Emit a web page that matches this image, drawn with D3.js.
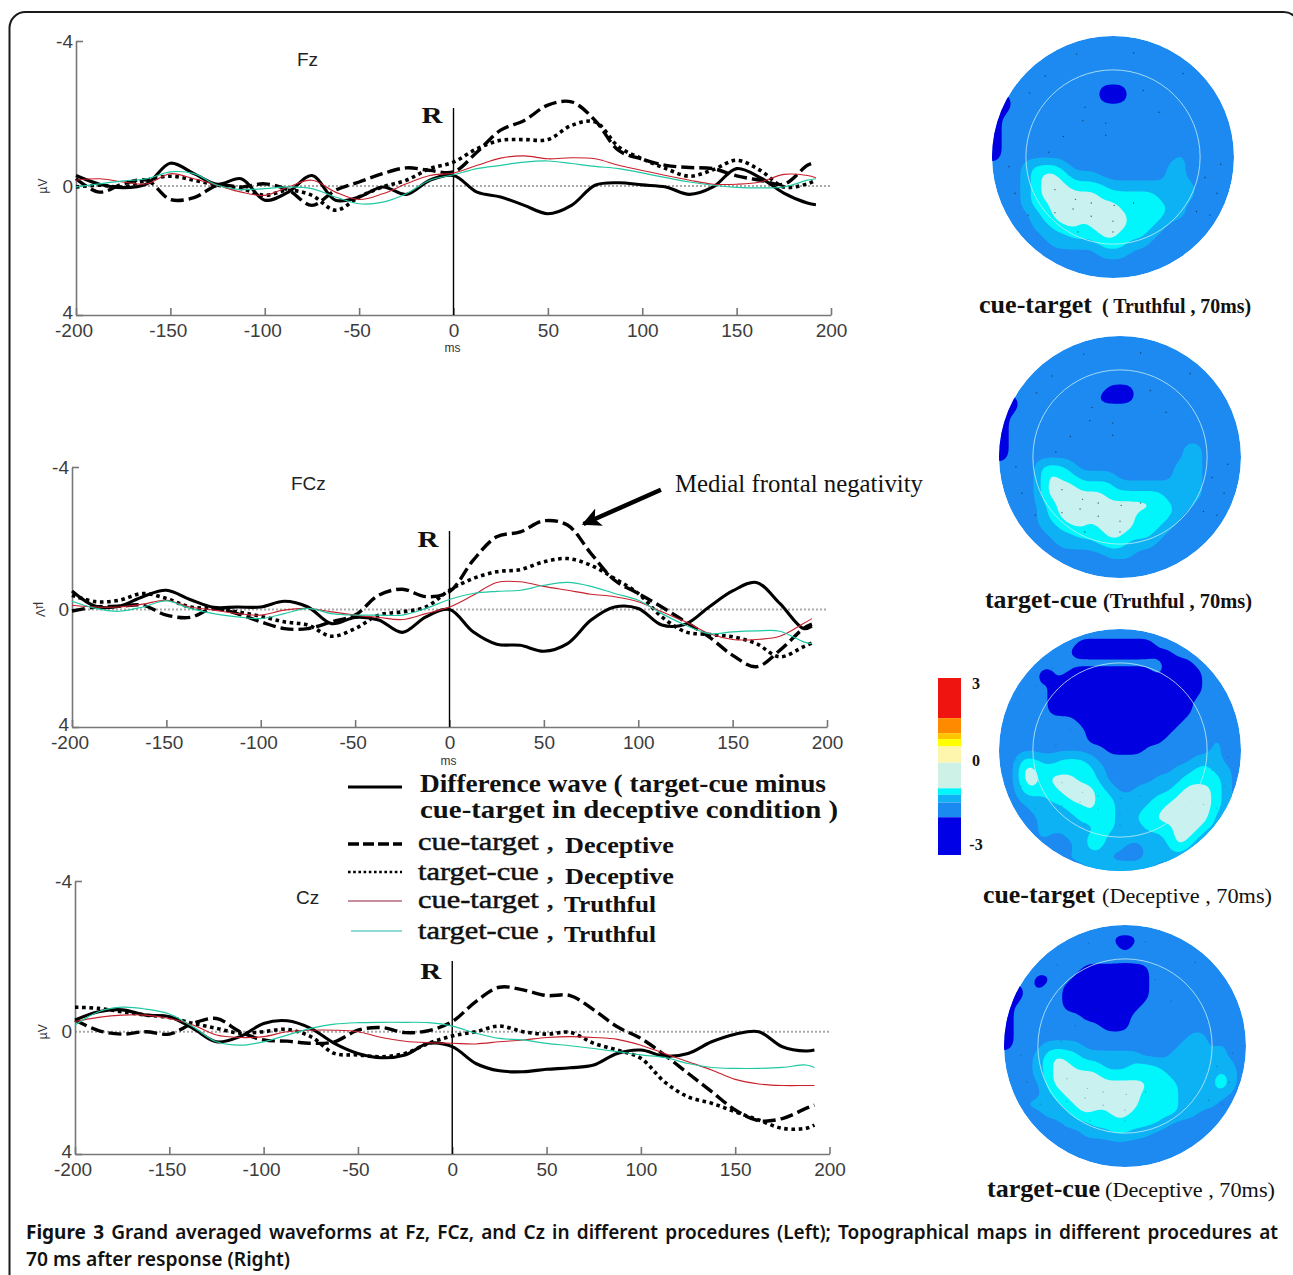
<!DOCTYPE html>
<html>
<head>
<meta charset="utf-8">
<script src="https://cdn.jsdelivr.net/npm/d3@7"></script>
<style>
body { margin: 0; background: #fff; }
svg { display: block; }
</style>
</head>
<body>
<svg id="figure" width="1293" height="1275"></svg>
<script>
// time base shared by all three electrodes (ms)
const times = [-200,-187.5,-175,-162.5,-150,-137.5,-125,-112.5,-100,-87.5,-75,-62.5,-50,-37.5,-25,-12.5,0,12.5,25,37.5,50,62.5,75,87.5,100,112.5,125,137.5,150,162.5,175,187.5,192];
const xTicks = [-200,-150,-100,-50,0,50,100,150,200];
const yTicks = [-4,0,4];

// Fz (uV, negative up)
const fzDiff = [-.29,-.05,.05,-.06,-.63,-.34,-.05,-.2,.44,.19,-.29,.44,.34,.03,.26,-.16,-.29,.19,.34,.6,.86,.6,-.02,-.09,-.03,.03,.26,.03,-.48,-.23,.22,.53,.58];
const fzCueDec = [-.2,.19,-.06,-.16,.42,.36,-.02,.03,-.06,.13,.6,.13,-.11,-.34,-.5,-.43,-.39,-.94,-1.54,-1.81,-2.23,-2.32,-1.81,-.98,-.74,-.57,-.51,-.48,-.28,-.16,-.05,-.57,-.66];
const fzTgtDec = [.03,-.02,.03,-.16,-.27,-.16,-.02,.08,.29,.13,.29,.75,.34,.03,-.16,-.48,-.66,-1.03,-1.26,-1.28,-1.28,-1.67,-1.77,-1.08,-.75,-.48,-.27,-.45,-.71,-.43,.03,-.06,-.16];
const fzCueTru = [-.16,-.2,-.11,-.06,-.34,-.2,-.02,.19,.29,.03,-.16,.19,.42,.24,-.06,-.29,-.36,-.57,-.77,-.83,-.75,-.78,-.75,-.57,-.43,-.29,-.16,-.05,-.05,-.11,-.32,-.29,-.23];
const fzTgtTru = [.03,-.06,-.14,-.2,-.39,-.34,-.02,.11,.08,.03,.08,.34,.55,.5,.24,-.16,-.31,-.48,-.57,-.66,-.69,-.62,-.54,-.48,-.36,-.23,-.11,-.02,.04,.06,.03,-.16,-.2];

// FCz
const fczDiff = [-.52,-.09,-.09,-.36,-.54,-.28,-.06,-.07,-.07,-.23,-.07,.48,.27,.36,.78,.25,0,.76,1.18,1.22,1.42,1.16,.36,-.07,-.03,.53,.5,-.07,-.52,-.76,-.17,.65,.57];
const fczCueDec = [.05,-.07,-.09,-.12,.19,.27,-.03,.14,.42,.65,.65,.42,.19,-.4,-.57,-.36,-.5,-1.38,-2.04,-2.18,-2.49,-2.37,-1.57,-.82,-.45,-.07,.42,.93,1.56,1.95,1.39,.65,.5];
const fczTgtDec = [-.4,-.22,-.26,-.45,-.31,-.07,-.03,.08,.23,.42,.53,.91,.65,.19,.08,-.07,-.54,-.87,-1.06,-1.12,-1.34,-1.43,-1.24,-.87,-.45,.25,.76,.85,.93,1.16,1.61,1.27,1.14];
const fczCueTru = [-.12,-.07,-.07,-.15,-.26,-.07,.02,.14,.19,.02,-.03,.08,.19,.27,.34,.14,-.07,-.4,-.76,-.78,-.65,-.54,-.43,-.36,-.22,.08,.42,.82,1.02,1.02,.91,.48,.31];
const fczTgtTru = [-.23,-.03,.06,-.07,-.24,-.03,.14,.25,.31,.14,-.03,.14,.19,.19,.19,-.03,-.28,-.45,-.51,-.54,-.68,-.76,-.65,-.45,-.26,.14,.53,.82,.76,.73,.74,1.1,1.16];

// Cz
const czDiff = [-.31,-.53,-.58,-.44,-.4,-.09,.33,.16,-.22,-.29,-.09,.38,.71,.85,.76,.38,.49,1.04,1.28,1.31,1.23,1.18,1.09,.71,.6,.8,.71,.33,.08,0,.49,.63,.6];
const czCueDec = [-.31,-.03,.08,0,.08,-.22,-.35,0,.27,.31,.38,.33,-.04,-.11,.03,-.03,-.27,-.8,-1.18,-1.11,-.96,-.96,-.58,-.13,.22,.76,1.36,1.96,2.56,2.91,2.84,2.51,2.4];
const czTgtDec = [-.65,-.62,-.53,-.44,-.38,-.22,-.09,.05,0,-.06,.16,.71,.76,.82,.71,.38,.14,0,-.15,0,.08,.02,.38,.6,.87,1.64,2.13,2.34,2.62,2.89,3.16,3.16,3.05];
const czCueTru = [-.27,-.38,-.44,-.44,-.35,-.18,.11,.19,.16,0,-.04,-.04,0,.19,.31,.36,.38,.4,.33,.27,.19,.16,.19,.25,.44,.71,.98,1.25,1.56,1.71,1.76,1.76,1.76];
const czTgtTru = [-.18,-.53,-.65,-.6,-.47,-.13,.33,.44,.33,.11,-.09,-.2,-.24,-.25,-.25,-.24,-.15,.05,.22,.27,.38,.46,.55,.65,.76,.84,1.04,1.17,1.2,1.2,1.17,1.09,1.17];

// colour bands of the topographic maps, band digit -> colour
const bandColors = ["#0000e0", "#1a8af0", "#10b2f5", "#00f6fa", "#c9f1ef"];

// colour bar: upper limit of each band in uV
const barStops = [3, 1.64, 1.13, .93, .68, .13, -.74, -.96, -1.22, -1.72, -3];
const barColors = ["#f01410", "#ff8a00", "#ffc400", "#ffff00", "#fff6ae", "#cdf1e6", "#00f6fa", "#10b2f5", "#1a8af0", "#0000e6"];
const barTicks = [3, 0, -3];

// topographic maps read as band digits on a 25 x 25 grid
const mapCueTruthful = [
"1111111111111111111111111","1111111111111111111111111","1111111111111111111111111","1111111111111111111111111","1111111111111111111111111",
"0111111111100011111111111","0011111111100011111111111","0011111111111111111111111","0111111111111111111111111","0111111111111111111111111",
"0111111111111111111111111","0111111111111111111111111","0111111111111111111211111","1112333211111111112211111","1112344322211111112211111",
"1112344433332222222221111","1112344444433333322221111","1112334444444333332211111","1111234444444433332211111","1111223443444433321111111",
"1111122233344333211111111","1111112222233322111111111","1111111111122211111111111","1111111111111111111111111","1111111111111111111111111"];

const mapTargetTruthful = [
"1111111111111111111111111","1111111111111111111111111","1111111111111111111111111","1111111111111111111111111","1111111111111111111111111",
"1111111111100011111111111","0011111111000011111111111","0011111111111111111111111","0111111111111111111111111","0111111111111111111111111",
"0111111111111111111111111","0111111111111111111221111","0111111111111111111221111","1111333211111111112221111","1111343322221111112221111",
"1111344433332222222221111","1111344444433333322221111","1111234444444444332211111","1111234444444433332111111","1111223443444433321111111",
"1111122233344333211111111","1111112222333222111111111","1111111111122211111111111","1111111111111111111111111","1111111111111111111111111"];

const mapCueDeceptive = [
"1111111111111111111111111","1111111100000000111111111","1111111000000000001111111","1111111111111111100011111","1111001000000000100001111",
"1111010000000000000001111","1111100000000000000001111","1111100000000000000011111","1111100000000000000011111","1111111100000000000111111",
"1111111110000000001111111","1111111110000000011111211","1111111111100001111111211","1133223332111111111122211","1144333333211111112233221",
"1144344433211111222333321","1134334444321122223444321","1122233444332222334444321","1112222334332223344444321","1111222233332233444444211",
"1111222222332223334443211","1111211223322222234431111","1111111123322112224311111","1111111222211112222111111","1111111112222222111111111"];

const mapTargetDeceptive = [
"1111111111111111111111111","1111111111100011111111111","1111111111110111111111111","1111111111111111111111111","1111111100000001111111111",
"1110011000000001111111111","0010110000000001111111111","0011110000000001111111111","0111110000000011111111111","0111111100000111111111111",
"0111111111000111111111111","0111111111111111111221111","0111222211111111112221211","1112343322222211122222211","1112344333222333222222221",
"1112344444333333322222321","1111344444444443332222421","1111234444444433332222211","1122223444444433332222111","1111222343344333332211111",
"1111112223333333211111111","1111111122233221111111111","1111111111111111111111111","1111111111111111111111111","1111111111111111111111111"];

// electrode sites, as fractions of the head radius
const electrodes = [[-.3,-.85],[.17,-.86],[.58,-.69],[-.56,-.67],[-.69,-.53],[.25,-.55],[-.23,-.41],[.38,-.37],[-.25,-.3],[-.06,-.28],[-.06,-.18],[-.41,-.17],[-.53,-.04],[-.86,.08],[.89,.06],[.76,.17],[-.81,.3],[.86,.3],[.69,.45],[.8,.48],[-.7,.48],[-.48,.27],[-.31,.35],[-.18,.38],[.01,.4],[.17,.38],[-.48,.46],[-.33,.43],[-.18,.49],[0,.53],[-.29,.62],[0,.62]];

const svg = d3.select("#figure");
const serif = "'Liberation Serif', serif";
const sans = "'Liberation Sans', sans-serif";

const styles = {
    diff: { stroke: "#000", width: 3.1 },
    cueDec: { stroke: "#000", width: 3.4, dash: "13 5" },
    tgtDec: { stroke: "#000", width: 3.6, dash: "3.6 3.6" },
    cueTru: { stroke: "#c8202c", width: 1.1 },
    tgtTru: { stroke: "#1fc8a2", width: 1.2 }
};

function drawFrame() {
    svg.append("rect")
        .attr("x", 9.5).attr("y", 12).attr("width", 1290).attr("height", 1320)
        .attr("rx", 16)
        .attr("fill", "#fff").attr("stroke", "#1a1a1a").attr("stroke-width", 2);
}

function label(x, y, str, width, opts = {}) {
    const t = svg.append("text")
        .attr("x", x).attr("y", y)
        .attr("font-family", opts.family || serif)
        .attr("font-size", opts.size || 25)
        .attr("font-weight", opts.weight || "bold")
        .attr("fill", opts.fill || "#111")
        .text(str);
    if (width) t.attr("textLength", width).attr("lengthAdjust", "spacingAndGlyphs");
    return t;
}

function drawPanel(p) {
    const xScale = d3.scaleLinear().domain([-200, 200]).range(p.x);
    const yScale = d3.scaleLinear().domain([-4, 0, 4]).range(p.y);
    const g = svg.append("g");

    const line = d3.line()
        .x((d, i) => xScale(times[i]))
        .y(d => yScale(d))
        .curve(d3.curveCatmullRom);

    g.append("line")
        .attr("x1", xScale(-200)).attr("x2", xScale(200))
        .attr("y1", yScale(0)).attr("y2", yScale(0))
        .attr("stroke", "#a9a9a9").attr("stroke-width", 2).attr("stroke-dasharray", "2 2");

    const xAxis = g.append("g")
        .attr("transform", `translate(0,${yScale(4)})`)
        .call(d3.axisBottom(xScale).tickValues(xTicks).tickSizeInner(-7).tickSizeOuter(0).tickPadding(9).tickFormat(d => String(d)));
    const yAxis = g.append("g")
        .attr("transform", `translate(${xScale(-200)},0)`)
        .call(d3.axisLeft(yScale).tickValues(yTicks).tickSizeInner(-7).tickSizeOuter(0).tickPadding(3).tickFormat(d => String(d)));
    yAxis.selectAll(".tick").filter(d => d === 0).select("line").remove();

    [xAxis, yAxis].forEach(a => {
        a.selectAll("path,line").attr("stroke", "#777").attr("stroke-width", 1.6);
        a.selectAll("text").attr("font-family", sans).attr("font-size", 19).attr("fill", "#3c3c3c");
    });
    xAxis.selectAll("text").attr("dx", d => d < 0 ? -2.5 : 0);
    yAxis.selectAll("text").attr("y", d => d === 4 ? -3 : 0);

    // response marker
    g.append("line")
        .attr("x1", xScale(0)).attr("x2", xScale(0))
        .attr("y1", p.rTop).attr("y2", yScale(4))
        .attr("stroke", "#000").attr("stroke-width", 1.4);
    label(xScale(0) - 32, p.rBase, "R", 21, { size: 24 });

    label(p.titleX, p.titleY, p.title, null, { family: sans, size: 19, weight: "normal", fill: "#222" });

    g.append("text")
        .attr("transform", `translate(${p.unitX},${yScale(0)}) rotate(${p.unitRot})`)
        .attr("text-anchor", "middle")
        .attr("font-family", sans).attr("font-size", 12).attr("fill", "#333")
        .text("\u00b5V");

    if (p.msY) {
        g.append("text")
            .attr("x", xScale(0) - 1).attr("y", p.msY)
            .attr("text-anchor", "middle")
            .attr("font-family", sans).attr("font-size", 12).attr("fill", "#333")
            .text("ms");
    }

    g.selectAll("path.wave")
        .data(p.series)
        .enter()
        .append("path")
        .attr("class", "wave")
        .attr("fill", "none")
        .attr("d", d => line(d.values))
        .attr("stroke", d => styles[d.key].stroke)
        .attr("stroke-width", d => styles[d.key].width)
        .attr("stroke-dasharray", d => styles[d.key].dash || null);

    return { xScale, yScale };
}

const defs = svg.append("defs");
defs.append("filter").attr("id", "soft").append("feGaussianBlur").attr("stdDeviation", 0.6);
defs.append("marker")
    .attr("id", "arrowHead")
    .attr("viewBox", "0 0 10 10").attr("refX", 9).attr("refY", 5)
    .attr("markerWidth", 4.2).attr("markerHeight", 4.2)
    .attr("orient", "auto")
    .append("path").attr("d", "M0,0L10,5L0,10L2.5,5Z").attr("fill", "#000");

// repeat each grid digit, then blur so the band edges come out round
function smoothGrid(grid, f, radius) {
    const n = grid.length * f;
    const data = new Float64Array(n * n);
    for (let j = 0; j < n; j++) {
        for (let i = 0; i < n; i++) {
            data[j * n + i] = +grid[Math.floor(j / f)][Math.floor(i / f)];
        }
    }
    d3.blur2({ data, width: n, height: n }, radius);
    return { data: Array.from(data), n };
}

function drawMap(m, idx) {
    const { data, n } = smoothGrid(m.grid, 4, 2);
    const cell = 2 * m.r / n;
    const path = d3.geoPath(d3.geoIdentity().scale(cell).translate([m.cx - m.r, m.cy - m.r]));

    defs.append("clipPath").attr("id", `head${idx}`)
        .append("circle").attr("cx", m.cx).attr("cy", m.cy).attr("r", m.r);

    const g = svg.append("g").attr("filter", "url(#soft)");
    const inner = g.append("g").attr("clip-path", `url(#head${idx})`);

    inner.append("circle")
        .attr("cx", m.cx).attr("cy", m.cy).attr("r", m.r)
        .attr("fill", bandColors[1]);

    // lighter bands above the base blue
    const up = d3.contours().size([n, n]).thresholds([1.5, 2.5, 3.5])(data);
    inner.selectAll("path.up")
        .data(up)
        .enter()
        .append("path")
        .attr("class", "up")
        .attr("d", path)
        .attr("fill", (d, i) => bandColors[i + 2]);

    // deep blue band below it
    const down = d3.contours().size([n, n]).thresholds([-0.5])(data.map(v => -v));
    inner.selectAll("path.down")
        .data(down)
        .enter()
        .append("path")
        .attr("class", "down")
        .attr("d", path)
        .attr("fill", bandColors[0]);

    svg.append("circle")
        .attr("cx", m.cx).attr("cy", m.cy).attr("r", m.r * 0.72)
        .attr("fill", "none").attr("stroke", "#c4edf4").attr("stroke-width", 0.8);

    svg.append("g").selectAll("circle")
        .data(electrodes)
        .enter()
        .append("circle")
        .attr("cx", d => m.cx + d[0] * m.r)
        .attr("cy", d => m.cy + d[1] * m.r)
        .attr("r", 0.7)
        .attr("fill", "#123")
        .attr("opacity", m.dots);

    label(m.nameX, m.base, m.name, m.nameW, { size: 25 });
    label(m.noteX, m.base, m.note, m.noteW, { size: 21, weight: m.noteWeight });
}

function drawColorBar() {
    const yScale = d3.scaleLinear().domain([3, -3]).range([678, 855]);
    svg.append("g").selectAll("rect")
        .data(barColors)
        .enter()
        .append("rect")
        .attr("x", 938).attr("width", 23)
        .attr("y", (d, i) => yScale(barStops[i]))
        .attr("height", (d, i) => yScale(barStops[i + 1]) - yScale(barStops[i]))
        .attr("fill", d => d);
    svg.append("g").selectAll("text")
        .data(barTicks)
        .enter()
        .append("text")
        .attr("x", 970 + 6)
        .attr("y", d => d === 3 ? 689 : d === 0 ? 766 : 850)
        .attr("text-anchor", "middle")
        .attr("font-family", serif).attr("font-weight", "bold").attr("font-size", 16).attr("fill", "#111")
        .text(d => d);
}

function drawLegend() {
    const rows = [
        { key: "diff", y: 787 },
        { key: "cueDec", y: 844 },
        { key: "tgtDec", y: 872 },
        { key: "cueTru", y: 901 },
        { key: "tgtTru", y: 931 }
    ];
    svg.append("g").selectAll("line")
        .data(rows)
        .enter()
        .append("line")
        .attr("x1", d => d.key === "tgtTru" ? 351 : 348).attr("x2", 402)
        .attr("y1", d => d.y).attr("y2", d => d.y)
        .attr("stroke", d => d.key === "cueTru" ? "#8e1f3a" : d.key === "tgtTru" ? "#20b8b0" : styles[d.key].stroke)
        .attr("stroke-width", d => styles[d.key].width - (d.key === "tgtDec" ? 1 : 0))
        .attr("stroke-dasharray", d => d.key === "tgtDec" ? "2.6 2.6" : d.key === "cueDec" ? "11 4" : null);

    label(420, 792, "Difference wave ( target-cue minus", 406);
    label(420, 818, "cue-target  in deceptive condition )", 418);
    label(418, 850, "cue-target ,", 136, { size: 26, weight: "normal" }).attr("stroke", "#111").attr("stroke-width", 0.5);
    label(565, 853, "Deceptive", 109, { size: 23 });
    label(418, 880, "target-cue ,", 136, { size: 26, weight: "normal" }).attr("stroke", "#111").attr("stroke-width", 0.5);
    label(565, 884, "Deceptive", 109, { size: 23 });
    label(418, 908, "cue-target ,", 136, { size: 26, weight: "normal" }).attr("stroke", "#111").attr("stroke-width", 0.5);
    label(564, 912, "Truthful", 92, { size: 23 });
    label(418, 939, "target-cue ,", 136, { size: 26, weight: "normal" }).attr("stroke", "#111").attr("stroke-width", 0.5);
    label(564, 942, "Truthful", 92, { size: 23 });
}

function drawCaption() {
    const font = "'Noto Sans', sans-serif";
    const first = svg.append("text")
        .attr("x", 26).attr("y", 1239)
        .attr("font-family", font).attr("font-size", 19).attr("font-weight", 600).attr("fill", "#111");
    first.append("tspan").attr("font-weight", "bold").text("Figure 3");
    first.append("tspan").text(" Grand averaged waveforms at Fz, FCz, and Cz in different procedures (Left); Topographical maps in different procedures at");
    // justified like the journal column
    const spaces = 19;
    first.attr("word-spacing", (1252 - first.node().getComputedTextLength()) / spaces);
    svg.append("text")
        .attr("x", 26).attr("y", 1266)
        .attr("font-family", font).attr("font-size", 19).attr("font-weight", 600).attr("fill", "#111")
        .attr("textLength", 264).attr("lengthAdjust", "spacingAndGlyphs")
        .text("70 ms after response (Right)");
}

drawFrame();

const fcz = [
    { title: "Fz", titleX: 297, titleY: 66, x: [76, 831], y: [41, 186, 315], rTop: 108, rBase: 123, unitX: 47, unitRot: -90, msY: 352,
      series: [{ key: "diff", values: fzDiff }, { key: "cueDec", values: fzCueDec }, { key: "tgtDec", values: fzTgtDec }, { key: "cueTru", values: fzCueTru }, { key: "tgtTru", values: fzTgtTru }] },
    { title: "FCz", titleX: 291, titleY: 490, x: [72, 827], y: [467, 609.5, 727], rTop: 531, rBase: 547, unitX: 36, unitRot: 90, msY: 765,
      series: [{ key: "diff", values: fczDiff }, { key: "cueDec", values: fczCueDec }, { key: "tgtDec", values: fczTgtDec }, { key: "cueTru", values: fczCueTru }, { key: "tgtTru", values: fczTgtTru }] },
    { title: "Cz", titleX: 296, titleY: 904, x: [75, 829.5], y: [881, 1031.7, 1154], rTop: 961, rBase: 979, unitX: 47, unitRot: -90,
      series: [{ key: "diff", values: czDiff }, { key: "cueDec", values: czCueDec }, { key: "tgtDec", values: czTgtDec }, { key: "cueTru", values: czCueTru }, { key: "tgtTru", values: czTgtTru }] }
].map(drawPanel)[1];

// arrow to the peak on FCz
svg.append("line")
    .attr("x1", fcz.xScale(112)).attr("y1", fcz.yScale(-3.36))
    .attr("x2", fcz.xScale(71)).attr("y2", fcz.yScale(-2.4))
    .attr("stroke", "#000").attr("stroke-width", 4.5)
    .attr("marker-end", "url(#arrowHead)");
label(675, 492, "Medial frontal negativity", 248, { size: 25, weight: "normal" });

drawLegend();
drawColorBar();

[
    { grid: mapCueTruthful, cx: 1113, cy: 157, r: 121, dots: 0.7, name: "cue-target", nameX: 979, nameW: 113, note: "( Truthful , 70ms)", noteX: 1102, noteW: 149, noteWeight: "bold", base: 313 },
    { grid: mapTargetTruthful, cx: 1120, cy: 457, r: 121, dots: 0.7, name: "target-cue", nameX: 985, nameW: 112, note: "(Truthful , 70ms)", noteX: 1103, noteW: 149, noteWeight: "bold", base: 608 },
    { grid: mapCueDeceptive, cx: 1120, cy: 750, r: 121, dots: 0.2, name: "cue-target", nameX: 983, nameW: 112, note: "(Deceptive , 70ms)", noteX: 1102, noteW: 170, noteWeight: "normal", base: 903 },
    { grid: mapTargetDeceptive, cx: 1125, cy: 1046, r: 121, dots: 0.3, name: "target-cue", nameX: 987, nameW: 113, note: "(Deceptive , 70ms)", noteX: 1105, noteW: 170, noteWeight: "normal", base: 1197 }
].forEach(drawMap);

drawCaption();
</script>
</body>
</html>
